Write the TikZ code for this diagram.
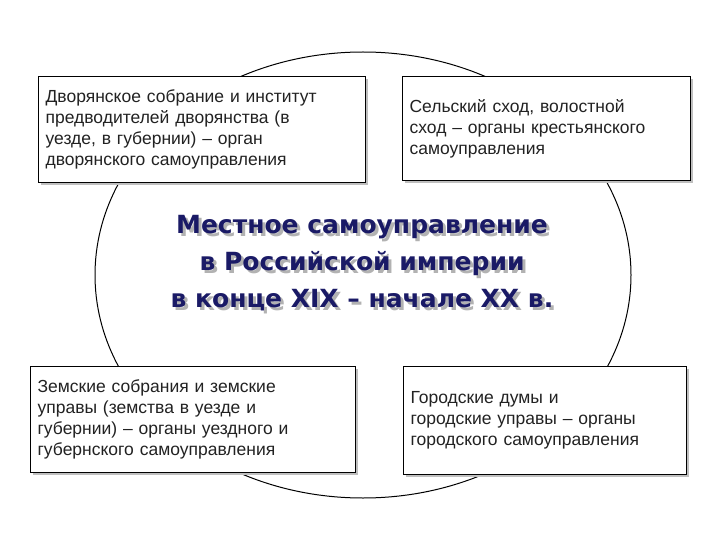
\documentclass[tikz,border=0pt]{standalone}
\usepackage{fontspec}
\setmainfont{Liberation Sans}
\newfontfamily\ttlfont{DejaVu Sans}
\usetikzlibrary{shadows}
\definecolor{navy}{HTML}{1A1A66}
\definecolor{txt}{HTML}{222222}
\newcommand{\jl}[1]{\makebox[\linewidth][s]{#1}\\}
\begin{document}
\begin{tikzpicture}[x=1pt,y=-1pt,
 box/.style={draw,line width=1.2pt,fill=white,anchor=north west,inner sep=0pt,inner xsep=7pt,align=left,font=\fontsize{17.5}{21}\selectfont,text=txt,drop shadow={shadow xshift=2pt,shadow yshift=-2pt,fill=gray!50,opacity=1}},
 ttl/.style={font=\fontsize{25}{37}\selectfont\ttlfont\bfseries,text=navy,align=center}]
\useasboundingbox (0,0) rectangle (720,540);
\draw[line width=1pt] (363,275) ellipse [x radius=268, y radius=223];
\node[box,text width=313pt,minimum height=106pt] (tl) at (38,76) {\jl{Дворянское собрание и институт}\jl{предводителей дворянства (в}\jl{уезде, в губернии) – орган}дворянского самоуправления\\[12pt]};
\node[box,text width=274pt,minimum height=104pt] (tr) at (402,76) {\jl{Сельский сход, волостной}\jl{сход – органы крестьянского}самоуправления\\[32pt]};
\node[box,text width=311pt,minimum height=106pt] (bl) at (30,366) {\jl{Земские собрания и земские}\jl{управы (земства в уезде и}\jl{губернии) – органы уездного и}губернского самоуправления\\[12pt]};
\node[box,text width=269pt,minimum height=108pt] (br) at (403,366) {\jl{Городские думы и}\jl{городские управы – органы}\makebox[\linewidth][s]{городского самоуправления}\\[30pt]};
\node[ttl,text=gray!60] at (365,266) {Местное самоуправление\\в Российской империи\\в конце XIX – начале XX в.};
\node[ttl] (t) at (362,263) {Местное самоуправление\\в Российской империи\\в конце XIX – начале XX в.};
\end{tikzpicture}
\end{document}
